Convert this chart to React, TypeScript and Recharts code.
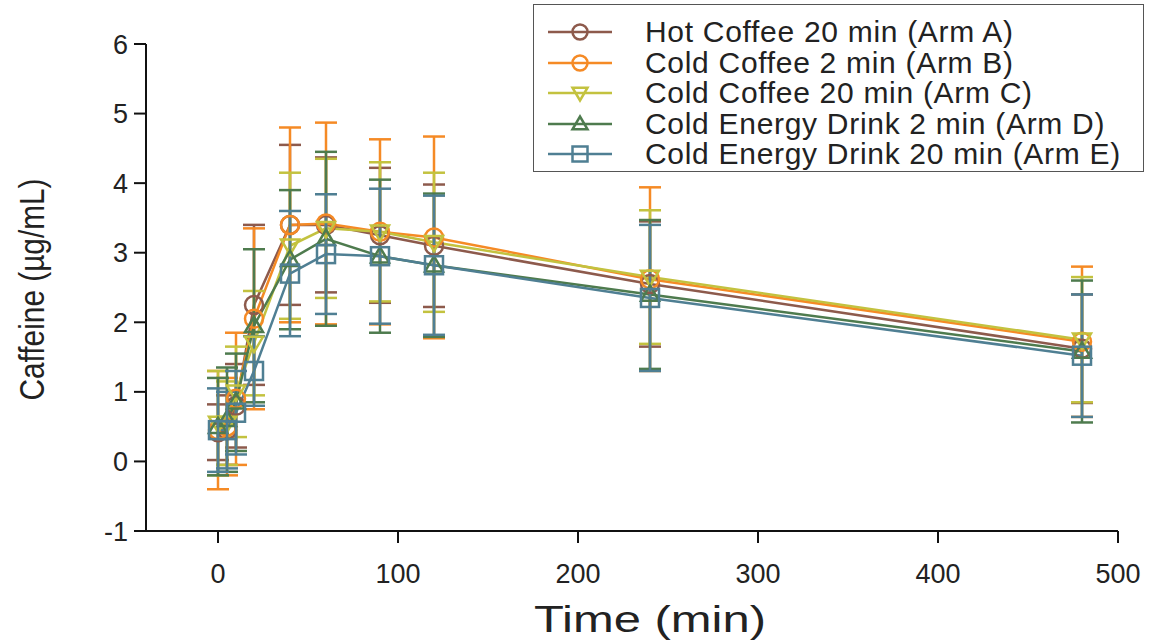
import React from 'react';
import { LineChart, Line, XAxis, YAxis, ErrorBar, Legend } from 'recharts';

// sampling times (min)
const times = [0, 5, 10, 20, 40, 60, 90, 120, 240, 480];

// mean caffeine (µg/mL) per arm
const armA = [0.42, 0.45, 0.8, 2.25, 3.4, 3.4, 3.25, 3.1, 2.55, 1.62];
const armB = [0.45, 0.5, 0.9, 2.05, 3.4, 3.42, 3.3, 3.22, 2.62, 1.72];
const armC = [0.55, 0.55, 1.0, 1.7, 3.1, 3.35, 3.3, 3.15, 2.65, 1.75];
const armD = [0.5, 0.6, 0.85, 1.95, 2.9, 3.2, 2.95, 2.82, 2.4, 1.58];
const armE = [0.45, 0.45, 0.7, 1.3, 2.7, 2.98, 2.95, 2.82, 2.35, 1.52];

// standard deviations per arm
const sdA = [0.4, 0.5, 0.6, 1.15, 1.15, 0.97, 0.97, 0.88, 0.9, 0.78];
const sdB = [0.85, 0.7, 0.95, 1.3, 1.4, 1.45, 1.33, 1.45, 1.32, 1.08];
const sdC = [0.75, 0.6, 0.65, 0.75, 1.05, 1.0, 1.0, 1.0, 0.96, 0.9];
const sdD = [0.7, 0.75, 0.7, 1.1, 1.0, 1.25, 1.1, 1.03, 1.07, 1.02];
const sdE = [0.6, 0.55, 0.6, 0.5, 0.9, 0.86, 0.97, 1.0, 1.05, 0.88];

const xTicks = [0, 100, 200, 300, 400, 500];
const yTicks = [-1, 0, 1, 2, 3, 4, 5, 6];

const series = [
  { key: 'A', name: 'Hot Coffee 20 min (Arm A)', color: '#8d5a4c', shape: 'circle', mean: armA, sd: sdA },
  { key: 'B', name: 'Cold Coffee 2 min (Arm B)', color: '#f58a25', shape: 'circle', mean: armB, sd: sdB },
  { key: 'C', name: 'Cold Coffee 20 min (Arm C)', color: '#c3c23f', shape: 'down', mean: armC, sd: sdC },
  { key: 'D', name: 'Cold Energy Drink 2 min (Arm D)', color: '#4e7b4e', shape: 'up', mean: armD, sd: sdD },
  { key: 'E', name: 'Cold Energy Drink 20 min (Arm E)', color: '#4f7f93', shape: 'square', mean: armE, sd: sdE },
];

const data = times.map((t, i) => {
  const row: any = { time: t };
  series.forEach((s) => {
    row[s.key] = s.mean[i];
    row['err' + s.key] = s.sd[i];
  });
  return row;
});

const FONT = '"Liberation Sans", Arial, Helvetica, sans-serif';

const Marker = ({ cx, cy, shape, color, r = 9 }: any) => {
  const sw = 2.5;
  if (shape === 'circle') return <circle cx={cx} cy={cy} r={r} fill="none" stroke={color} strokeWidth={sw} />;
  if (shape === 'square')
    return <rect x={cx - r} y={cy - r} width={r * 2} height={r * 2} fill="none" stroke={color} strokeWidth={sw} />;
  if (shape === 'down')
    return (
      <polygon
        points={`${cx - r},${cy - r * 0.7} ${cx + r},${cy - r * 0.7} ${cx},${cy + r}`}
        fill="none"
        stroke={color}
        strokeWidth={sw}
      />
    );
  return (
    <polygon
      points={`${cx - r},${cy + r * 0.7} ${cx + r},${cy + r * 0.7} ${cx},${cy - r}`}
      fill="none"
      stroke={color}
      strokeWidth={sw}
    />
  );
};

const LegendBox = () => (
  <div
    style={{
      border: '1.5px solid #555',
      background: 'white',
      width: 611,
      height: 168,
      boxSizing: 'border-box',
      padding: '12px 0 0 14px',
      fontFamily: FONT,
    }}
  >
    {series.map((s) => (
      <div key={s.key} style={{ display: 'flex', alignItems: 'center', height: 30.5 }}>
        <svg width={64} height={26} style={{ marginRight: 33 }}>
          <line x1={0} y1={13} x2={64} y2={13} stroke={s.color} strokeWidth={2.5} />
          <Marker cx={32} cy={13} r={7.5} shape={s.shape} color={s.color} />
        </svg>
        <span style={{ fontSize: 30, letterSpacing: 0.7, color: '#222', whiteSpace: 'nowrap', lineHeight: '30px' }}>
          {s.name}
        </span>
      </div>
    ))}
  </div>
);

// x-axis title, stretched a little wider than its height like the original
const TimeTitle = ({ viewBox }: any) => {
  const cx = viewBox.x + viewBox.width / 2 + 18;
  return (
    <text
      x={cx}
      y={632}
      textAnchor="middle"
      fill="#222"
      fontSize={36}
      fontFamily={FONT}
      textLength={232}
      lengthAdjust="spacingAndGlyphs"
    >
      Time (min)
    </text>
  );
};

// y-axis title, rotated; glyphs taller than the run length like the original
const CaffeineTitle = ({ viewBox }: any) => {
  const cy = viewBox.y + viewBox.height / 2 + 2;
  const x = 44;
  return (
    <text
      x={x}
      y={cy}
      transform={`rotate(-90, ${x}, ${cy})`}
      textAnchor="middle"
      fill="#222"
      fontSize={35}
      fontFamily={FONT}
      textLength={222}
      lengthAdjust="spacingAndGlyphs"
    >
      Caffeine (µg/mL)
    </text>
  );
};

export default function App() {
  return (
    <div style={{ position: 'absolute', left: 0, top: 0, background: 'white' }}>
      <LineChart width={1151} height={641} data={data} margin={{ top: 44, right: 33, left: 0, bottom: 0 }}>
        <XAxis
          dataKey="time"
          type="number"
          domain={[-40, 500]}
          ticks={xTicks}
          allowDataOverflow
          height={110}
          stroke="#111"
          strokeWidth={2}
          tickSize={12}
          tickMargin={21}
          tick={{ fill: '#222', fontSize: 27, fontFamily: FONT }}
          label={{ content: TimeTitle }}
        />
        <YAxis
          type="number"
          domain={[-1, 6]}
          ticks={yTicks}
          allowDataOverflow
          width={146}
          stroke="#111"
          strokeWidth={2}
          tickSize={12}
          tickMargin={6}
          tick={{ fill: '#222', fontSize: 27, fontFamily: FONT }}
          label={{ content: CaffeineTitle }}
        />
        {series.map((s) => (
          <Line
            key={s.key}
            dataKey={s.key}
            name={s.name}
            type="linear"
            stroke={s.color}
            strokeWidth={2.5}
            isAnimationActive={false}
            activeDot={false}
            dot={(p: any) => <Marker key={`${s.key}-${p.index}`} cx={p.cx} cy={p.cy} shape={s.shape} color={s.color} />}
          >
            <ErrorBar dataKey={'err' + s.key} width={11} stroke={s.color} strokeWidth={2.5} direction="y" />
          </Line>
        ))}
        <Legend
          layout="vertical"
          verticalAlign="middle"
          align="center"
          content={() => <LegendBox />}
          wrapperStyle={{ position: 'absolute', left: 533, top: 4, width: 'auto' }}
        />
      </LineChart>
    </div>
  );
}
